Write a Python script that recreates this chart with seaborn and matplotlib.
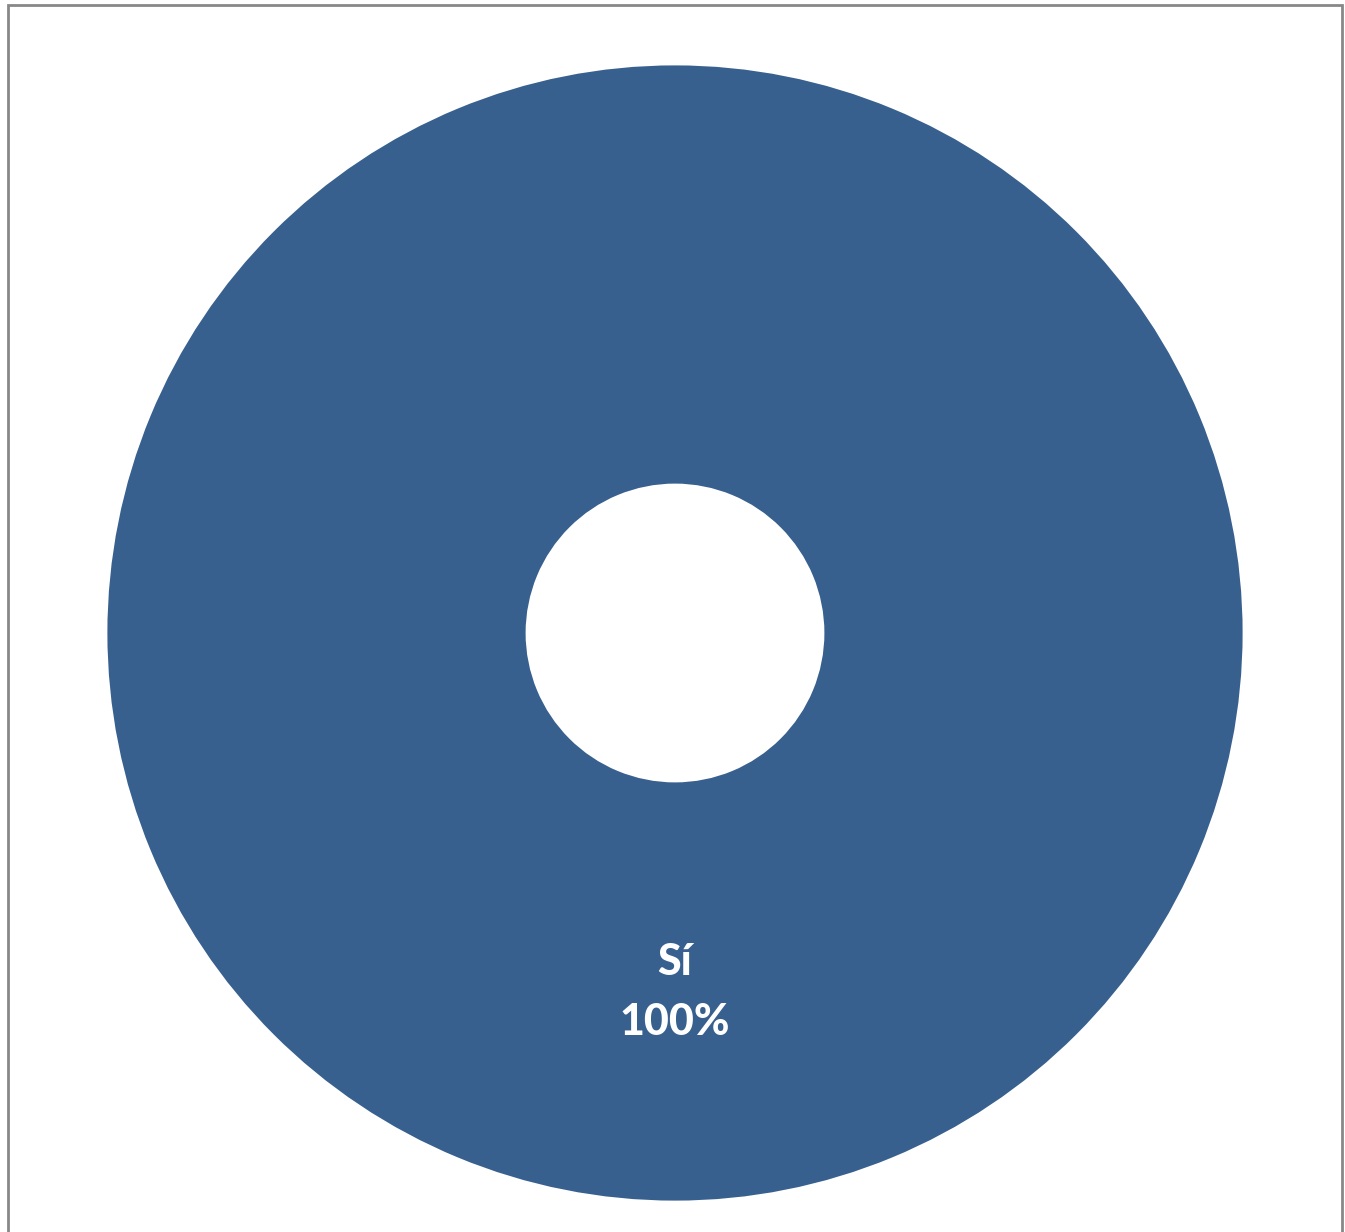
import matplotlib
matplotlib.use("Agg")
from matplotlib import pyplot as plt
from matplotlib.patches import Rectangle
import seaborn as sns

labels = ["Sí"]
values = [100]
colors = ["#37608F"]

sns.set_style("white")
plt.rcParams['font.family'] = ['Lato', 'DejaVu Sans']

fig = plt.figure(figsize=(13.45, 12.32), dpi=100)
W, H = 1345, 1232
cx, cy, r = 675, 633, 569
ax = fig.add_axes([(cx - r) / W, (H - cy - r) / H, 2 * r / W, 2 * r / H])

wedges, _ = ax.pie(values, colors=colors, radius=1, startangle=90, counterclock=False,
                   wedgeprops=dict(width=1 - 148 / r, edgecolor="white", linewidth=2))
ax.set_xlim(-1, 1)
ax.set_ylim(-1, 1)
ax.axis("off")

total = sum(values)
for lab, v in zip(labels, values):
    ax.text(0, -0.578, lab, ha="center", va="center", color="white", fontsize=31, fontweight="black")
    ax.text(0, -0.684, f"{v / total:.0%}", ha="center", va="center", color="white",
            fontsize=31, fontweight="black")

# frame around the chart area
fig.patches.append(Rectangle((8 / W, -0.01), (1342 - 8) / W, (H - 5) / H + 0.01,
                             transform=fig.transFigure, fill=False, edgecolor="#888888",
                             linewidth=2, clip_on=False))

fig.savefig("out.png", dpi=100)
